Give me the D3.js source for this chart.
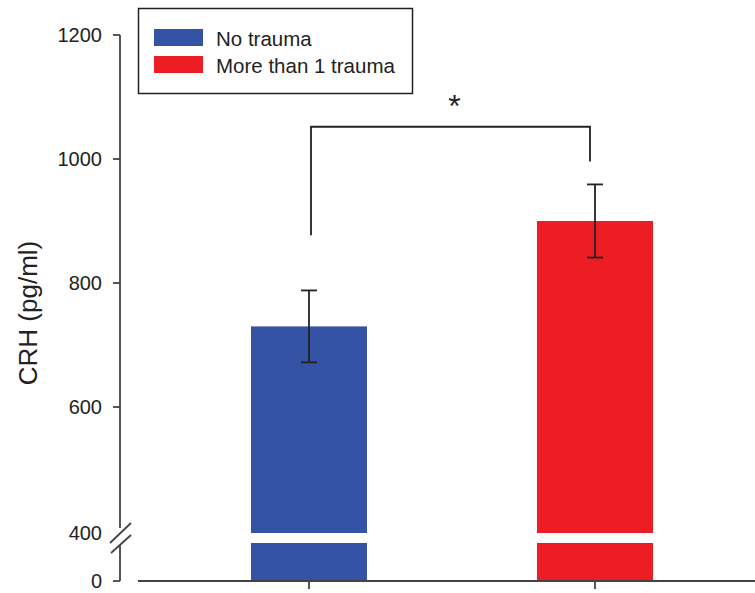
<!DOCTYPE html>
<html>
<head>
<meta charset="utf-8">
<script src="https://cdn.jsdelivr.net/npm/d3@7/dist/d3.min.js"></script>
<style>
  html, body { margin: 0; padding: 0; background: #fff; }
  svg { display: block; font-family: "Liberation Sans", Arial, sans-serif; }
</style>
</head>
<body>
<svg id="chart" width="755" height="593"></svg>
<script>
// ---- data ----
const categories = ["No trauma", "More than 1 trauma"];
const means = [730, 900];
const sems = [58, 59];
const colors = ["#3553a4", "#ed1d24"];
const upperTicks = [400, 600, 800, 1000, 1200];
const lowerTicks = [0];
// significance bracket (in data units): left leg end, right leg end, top
const bracketLegs = [877, 996];
const bracketTop = 1052;
const sigLabel = "*";
const yLabel = "CRH (pg/ml)";

// ---- layout ----
const svg = d3.select("#chart");
const axisX = 120;
const baseY = 581;          // y position of value 0
const breakUpperBottom = 533; // bottom of upper bar segment
const breakLowerTop = 543;    // top of lower bar segment
const barWidth = 116;
const ink = "#222";
const axisInk = "#444";

const y = d3.scaleLinear().domain([400, 1200]).range([531, 35]);
const yLow = d3.scaleLinear().domain([0, 400]).range([baseY, breakLowerTop]);
const x = d3.scalePoint().domain(categories).range([309, 595]);

// ---- bars ----
const g = svg.append("g");
categories.forEach((c, i) => {
  const cx = x(c);
  g.append("rect")
    .attr("x", cx - barWidth / 2)
    .attr("y", y(means[i]))
    .attr("width", barWidth)
    .attr("height", breakUpperBottom - y(means[i]))
    .attr("fill", colors[i]);
  g.append("rect")
    .attr("x", cx - barWidth / 2)
    .attr("y", yLow(400))
    .attr("width", barWidth)
    .attr("height", yLow(0) - yLow(400))
    .attr("fill", colors[i]);
  const top = y(means[i] + sems[i]);
  const bot = y(means[i] - sems[i]);
  g.append("line").attr("x1", cx).attr("x2", cx).attr("y1", top).attr("y2", bot)
    .attr("stroke", ink).attr("stroke-width", 1.8);
  [top, bot].forEach(yy => {
    g.append("line").attr("x1", cx - 8).attr("x2", cx + 8).attr("y1", yy).attr("y2", yy)
      .attr("stroke", ink).attr("stroke-width", 1.8);
  });
});

// ---- y axis (upper segment) ----
const yAxisUpper = svg.append("g").attr("transform", `translate(${axisX},0)`);
yAxisUpper.append("line").attr("x1", 0).attr("x2", 0).attr("y1", y(1200)).attr("y2", 528)
  .attr("stroke", axisInk).attr("stroke-width", 1.8);
upperTicks.forEach(t => {
  if (t !== 400) {
    yAxisUpper.append("line").attr("x1", -7).attr("x2", 0).attr("y1", y(t)).attr("y2", y(t))
      .attr("stroke", axisInk).attr("stroke-width", 1.8);
  }
  yAxisUpper.append("text").attr("x", -18).attr("y", y(t) + (t === 400 ? 2 : 0)).attr("dy", "0.35em")
    .attr("text-anchor", "end").attr("font-size", 20).attr("fill", "#222").text(t);
});
// lower segment
const yAxisLower = svg.append("g").attr("transform", `translate(${axisX},0)`);
yAxisLower.append("line").attr("x1", 0).attr("x2", 0).attr("y1", 545).attr("y2", yLow(0))
  .attr("stroke", axisInk).attr("stroke-width", 1.8);
lowerTicks.forEach(t => {
  yAxisLower.append("line").attr("x1", -7).attr("x2", 0).attr("y1", yLow(t)).attr("y2", yLow(t))
    .attr("stroke", axisInk).attr("stroke-width", 1.8);
  yAxisLower.append("text").attr("x", -18).attr("y", yLow(t)).attr("dy", "0.35em")
    .attr("text-anchor", "end").attr("font-size", 20).attr("fill", "#222").text(t);
});
// break slashes
[[ -10, 543, 11, 523 ], [ -9, 553, 11, 535 ]].forEach(s => {
  svg.append("line").attr("x1", axisX + s[0]).attr("y1", s[1]).attr("x2", axisX + s[2]).attr("y2", s[3])
    .attr("stroke", axisInk).attr("stroke-width", 1.8);
});

// ---- x axis ----
svg.append("line").attr("x1", 138).attr("x2", 755).attr("y1", baseY).attr("y2", baseY)
  .attr("stroke", axisInk).attr("stroke-width", 1.8);
categories.forEach(c => {
  svg.append("line").attr("x1", x(c)).attr("x2", x(c)).attr("y1", baseY).attr("y2", baseY + 8)
    .attr("stroke", axisInk).attr("stroke-width", 1.8);
});

// ---- y label ----
svg.append("text").attr("transform", "translate(37,313) rotate(-90)")
  .attr("text-anchor", "middle").attr("font-size", 26).attr("fill", "#222").text(yLabel);

// ---- significance bracket ----
const bx0 = x(categories[0]) + 2, bx1 = x(categories[1]) - 5;
svg.append("path")
  .attr("d", `M${bx0},${y(bracketLegs[0])}V${y(bracketTop)}H${bx1}V${y(bracketLegs[1])}`)
  .attr("fill", "none").attr("stroke", ink).attr("stroke-width", 1.8);
svg.append("text").attr("x", (bx0 + bx1) / 2 + 4).attr("y", 117)
  .attr("text-anchor", "middle").attr("font-size", 32).attr("fill", "#222").text(sigLabel);

// ---- legend ----
const lg = svg.append("g");
lg.append("rect").attr("x", 138.5).attr("y", 8.5).attr("width", 274).attr("height", 85)
  .attr("fill", "#fff").attr("stroke", ink).attr("stroke-width", 1.5);
categories.forEach((c, i) => {
  const yy = 29 + i * 27;
  lg.append("rect").attr("x", 154).attr("y", yy).attr("width", 49).attr("height", 17)
    .attr("fill", colors[i]);
  lg.append("text").attr("x", 216).attr("y", yy + 17).attr("font-size", 20.5)
    .attr("fill", "#222").text(c);
});
</script>
</body>
</html>
